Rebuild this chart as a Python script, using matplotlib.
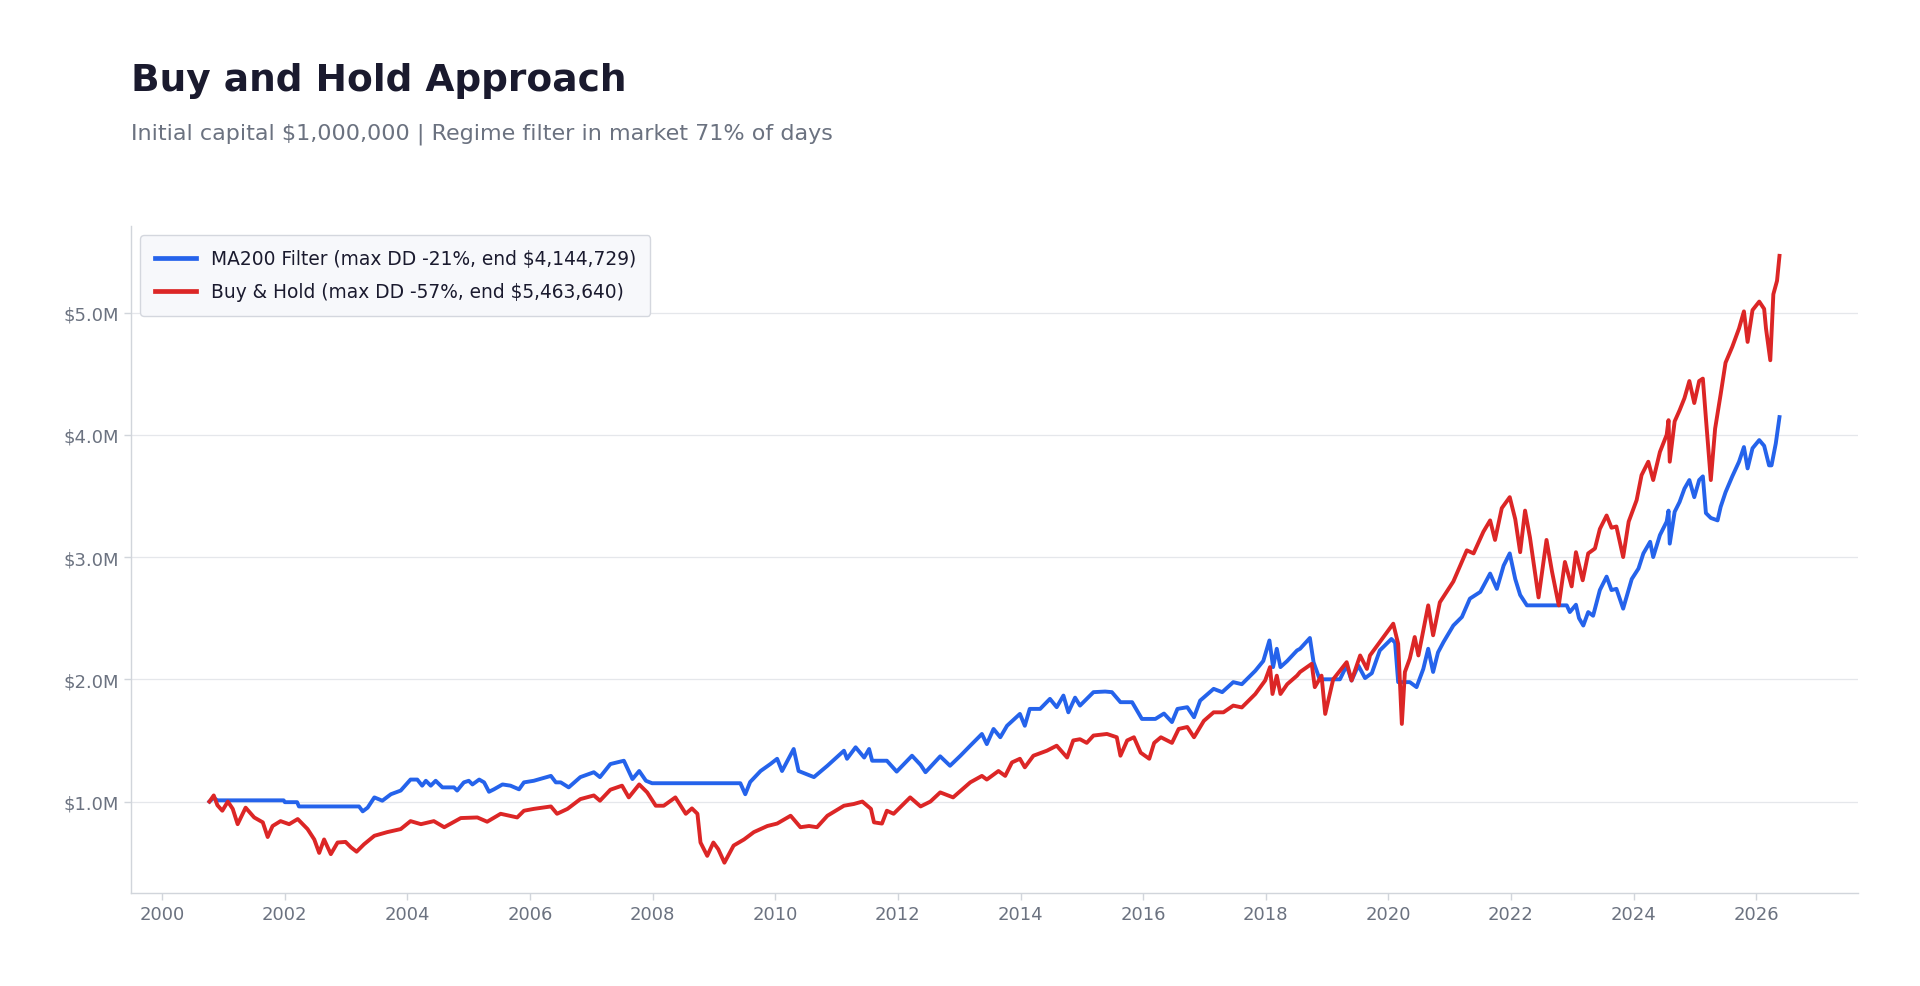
import matplotlib
matplotlib.use("Agg")
import matplotlib.pyplot as plt
from matplotlib.ticker import FuncFormatter, MultipleLocator
import numpy as np

# ---- data (decimal year, portfolio value in $M) ----
ma200_years = [2000.77, 2000.84, 2000.90, 2001.98, 2002.00, 2002.20, 2002.23, 2003.21, 2003.27, 2003.35,
               2003.46, 2003.59, 2003.73, 2003.89, 2004.05, 2004.16, 2004.24, 2004.30, 2004.38, 2004.46,
               2004.57, 2004.76, 2004.81, 2004.92, 2005.00, 2005.06, 2005.17, 2005.25, 2005.33, 2005.41,
               2005.55, 2005.68, 2005.82, 2005.90, 2006.06, 2006.34, 2006.42, 2006.50, 2006.63, 2006.82,
               2007.04, 2007.14, 2007.31, 2007.53, 2007.67, 2007.78, 2007.89, 2007.99, 2009.43, 2009.51,
               2009.59, 2009.76, 2009.92, 2010.03, 2010.11, 2010.30, 2010.38, 2010.63, 2010.85, 2011.12,
               2011.17, 2011.31, 2011.45, 2011.53, 2011.58, 2011.82, 2011.98, 2012.23, 2012.37, 2012.45,
               2012.69, 2012.85, 2013.02, 2013.18, 2013.37, 2013.45, 2013.56, 2013.67, 2013.78, 2013.99,
               2014.07, 2014.15, 2014.32, 2014.48, 2014.59, 2014.70, 2014.78, 2014.89, 2014.97, 2015.19,
               2015.38, 2015.49, 2015.63, 2015.82, 2015.98, 2016.20, 2016.34, 2016.47, 2016.56, 2016.72,
               2016.83, 2016.93, 2017.15, 2017.29, 2017.47, 2017.61, 2017.83, 2017.96, 2018.06, 2018.12,
               2018.18, 2018.24, 2018.35, 2018.51, 2018.56, 2018.72, 2018.78, 2018.88, 2019.21, 2019.32,
               2019.40, 2019.51, 2019.62, 2019.73, 2019.86, 2020.05, 2020.11, 2020.16, 2020.35, 2020.46,
               2020.57, 2020.65, 2020.73, 2020.81, 2020.90, 2021.06, 2021.20, 2021.33, 2021.50, 2021.66,
               2021.77, 2021.88, 2021.98, 2022.07, 2022.15, 2022.26, 2022.91, 2022.96, 2023.06, 2023.11,
               2023.18, 2023.26, 2023.34, 2023.45, 2023.56, 2023.64, 2023.72, 2023.83, 2023.97, 2024.08,
               2024.16, 2024.27, 2024.32, 2024.43, 2024.54, 2024.57, 2024.59, 2024.67, 2024.75, 2024.83,
               2024.91, 2024.99, 2025.07, 2025.13, 2025.18, 2025.26, 2025.37, 2025.42, 2025.50, 2025.61,
               2025.72, 2025.80, 2025.86, 2025.94, 2026.05, 2026.13, 2026.21, 2026.25, 2026.32, 2026.38]
ma200_values = [1.00, 1.03, 1.01, 1.01, 0.995, 0.995, 0.96, 0.96, 0.92, 0.95,
                1.034, 1.007, 1.06, 1.09, 1.18, 1.18, 1.13, 1.17, 1.13, 1.17,
                1.116, 1.116, 1.09, 1.157, 1.17, 1.14, 1.18, 1.157, 1.08, 1.10,
                1.14, 1.13, 1.10, 1.157, 1.17, 1.21, 1.157, 1.157, 1.116, 1.20,
                1.24, 1.20, 1.307, 1.334, 1.184, 1.25, 1.17, 1.15, 1.15, 1.06,
                1.16, 1.25, 1.307, 1.35, 1.25, 1.43, 1.25, 1.20, 1.293, 1.416,
                1.35, 1.444, 1.36, 1.43, 1.334, 1.334, 1.245, 1.375, 1.30, 1.24,
                1.37, 1.293, 1.375, 1.457, 1.553, 1.47, 1.594, 1.526, 1.62, 1.717,
                1.62, 1.758, 1.758, 1.84, 1.772, 1.867, 1.73, 1.85, 1.785, 1.895,
                1.90, 1.895, 1.813, 1.813, 1.676, 1.676, 1.72, 1.65, 1.758, 1.772,
                1.69, 1.826, 1.922, 1.895, 1.977, 1.96, 2.07, 2.15, 2.318, 2.10,
                2.25, 2.10, 2.15, 2.236, 2.25, 2.338, 2.14, 2.00, 2.00, 2.113,
                1.99, 2.113, 2.01, 2.05, 2.236, 2.33, 2.30, 1.977, 1.977, 1.936,
                2.085, 2.25, 2.06, 2.22, 2.305, 2.44, 2.51, 2.66, 2.715, 2.865,
                2.74, 2.93, 3.03, 2.82, 2.69, 2.605, 2.605, 2.55, 2.61, 2.50,
                2.44, 2.55, 2.52, 2.73, 2.84, 2.73, 2.74, 2.578, 2.82, 2.906,
                3.03, 3.125, 3.00, 3.18, 3.29, 3.38, 3.11, 3.37, 3.45, 3.56,
                3.63, 3.49, 3.63, 3.66, 3.36, 3.32, 3.30, 3.41, 3.53, 3.66,
                3.78, 3.90, 3.725, 3.89, 3.957, 3.91, 3.75, 3.75, 3.93, 4.145]

bh_years = [2000.77, 2000.84, 2000.90, 2000.98, 2001.07, 2001.15, 2001.23, 2001.36, 2001.50, 2001.64,
            2001.72, 2001.80, 2001.93, 2002.07, 2002.21, 2002.37, 2002.48, 2002.56, 2002.64, 2002.75,
            2002.86, 2002.99, 2003.08, 2003.17, 2003.29, 2003.46, 2003.67, 2003.89, 2004.05, 2004.22,
            2004.43, 2004.60, 2004.87, 2005.14, 2005.30, 2005.52, 2005.79, 2005.90, 2006.06, 2006.34,
            2006.44, 2006.61, 2006.82, 2007.04, 2007.14, 2007.31, 2007.50, 2007.61, 2007.78, 2007.91,
            2008.05, 2008.18, 2008.37, 2008.54, 2008.64, 2008.73, 2008.78, 2008.89, 2008.99, 2009.07,
            2009.17, 2009.32, 2009.49, 2009.65, 2009.87, 2010.03, 2010.25, 2010.41, 2010.55, 2010.68,
            2010.85, 2011.12, 2011.28, 2011.42, 2011.56, 2011.61, 2011.74, 2011.82, 2011.93, 2012.20,
            2012.37, 2012.53, 2012.69, 2012.90, 2013.18, 2013.37, 2013.45, 2013.64, 2013.75, 2013.86,
            2013.99, 2014.07, 2014.21, 2014.43, 2014.59, 2014.76, 2014.86, 2014.97, 2015.08, 2015.19,
            2015.41, 2015.57, 2015.63, 2015.74, 2015.85, 2015.96, 2016.10, 2016.18, 2016.29, 2016.47,
            2016.58, 2016.72, 2016.83, 2016.99, 2017.15, 2017.31, 2017.47, 2017.61, 2017.83, 2017.99,
            2018.07, 2018.11, 2018.18, 2018.24, 2018.35, 2018.51, 2018.56, 2018.75, 2018.80, 2018.91,
            2018.97, 2019.10, 2019.32, 2019.40, 2019.54, 2019.65, 2019.70, 2019.86, 2020.08, 2020.16,
            2020.22, 2020.27, 2020.35, 2020.43, 2020.49, 2020.65, 2020.73, 2020.84, 2021.06, 2021.28,
            2021.39, 2021.55, 2021.66, 2021.74, 2021.85, 2021.98, 2022.07, 2022.15, 2022.23, 2022.31,
            2022.45, 2022.58, 2022.67, 2022.78, 2022.88, 2022.99, 2023.06, 2023.17, 2023.26, 2023.37,
            2023.45, 2023.56, 2023.64, 2023.72, 2023.83, 2023.92, 2024.05, 2024.13, 2024.24, 2024.32,
            2024.43, 2024.54, 2024.57, 2024.59, 2024.67, 2024.75, 2024.83, 2024.91, 2024.99, 2025.07,
            2025.13, 2025.18, 2025.26, 2025.33, 2025.42, 2025.50, 2025.61, 2025.72, 2025.80, 2025.86,
            2025.94, 2026.05, 2026.13, 2026.16, 2026.23, 2026.28, 2026.34, 2026.38]
bh_values = [1.00, 1.05, 0.97, 0.925, 1.00, 0.94, 0.815, 0.95, 0.87, 0.83,
             0.71, 0.80, 0.84, 0.815, 0.857, 0.775, 0.69, 0.58, 0.69, 0.57,
             0.665, 0.67, 0.625, 0.59, 0.65, 0.72, 0.75, 0.775, 0.84, 0.815,
             0.84, 0.79, 0.865, 0.87, 0.835, 0.90, 0.87, 0.925, 0.94, 0.96,
             0.90, 0.94, 1.02, 1.05, 1.007, 1.097, 1.13, 1.034, 1.14, 1.075,
             0.966, 0.966, 1.034, 0.90, 0.944, 0.90, 0.665, 0.556, 0.665, 0.61,
             0.50, 0.64, 0.69, 0.75, 0.80, 0.82, 0.884, 0.79, 0.80, 0.79,
             0.884, 0.966, 0.98, 1.00, 0.94, 0.83, 0.82, 0.925, 0.90, 1.034,
             0.96, 1.00, 1.075, 1.034, 1.157, 1.21, 1.18, 1.25, 1.21, 1.32,
             1.35, 1.28, 1.375, 1.416, 1.457, 1.36, 1.50, 1.51, 1.48, 1.54,
             1.553, 1.526, 1.375, 1.50, 1.526, 1.40, 1.35, 1.48, 1.526, 1.48,
             1.594, 1.61, 1.526, 1.66, 1.73, 1.73, 1.785, 1.77, 1.88, 1.99,
             2.10, 1.88, 2.03, 1.88, 1.96, 2.03, 2.06, 2.127, 1.936, 2.03,
             1.717, 2.00, 2.14, 1.99, 2.195, 2.085, 2.195, 2.305, 2.455, 2.29,
             1.635, 2.06, 2.17, 2.346, 2.195, 2.605, 2.36, 2.63, 2.80, 3.055,
             3.03, 3.207, 3.30, 3.14, 3.40, 3.49, 3.31, 3.04, 3.38, 3.16,
             2.67, 3.14, 2.88, 2.605, 2.96, 2.76, 3.04, 2.81, 3.03, 3.07,
             3.23, 3.34, 3.24, 3.25, 3.00, 3.29, 3.466, 3.67, 3.78, 3.63,
             3.86, 4.00, 4.12, 3.78, 4.11, 4.20, 4.30, 4.44, 4.26, 4.44,
             4.46, 4.135, 3.63, 4.05, 4.33, 4.59, 4.72, 4.87, 5.01, 4.76,
             5.02, 5.09, 5.03, 4.87, 4.61, 5.15, 5.26, 5.464]

series_labels = ["MA200 Filter (max DD -21%, end $4,144,729)",
                 "Buy & Hold (max DD -57%, end $5,463,640)"]
title_text = "Buy and Hold Approach"
subtitle_text = "Initial capital $1,000,000 | Regime filter in market 71% of days"

# ---- styling ----
BLUE = "#2563eb"
RED = "#dc2626"
TEXT_DARK = "#1a1a2e"
TEXT_GRAY = "#6b7280"
GRID = "#e5e7eb"
SPINE = "#d1d5db"

plt.rcParams["font.family"] = ["DejaVu Sans"]

fig = plt.figure(figsize=(19.2, 9.87), dpi=100)
fig.patch.set_facecolor("white")
ax = fig.add_axes([0.0682, 0.0942, 0.8995, 0.6763])

ax.plot(ma200_years, np.array(ma200_values) * 1e6, color=BLUE, lw=2.8, label=series_labels[0], zorder=3)
ax.plot(bh_years, np.array(bh_values) * 1e6, color=RED, lw=2.8, label=series_labels[1], zorder=4)

ax.xaxis.set_major_locator(MultipleLocator(2))
ax.xaxis.set_major_formatter(FuncFormatter(lambda v, p: f"{int(round(v))}"))
ax.yaxis.set_major_locator(MultipleLocator(1e6))
ax.yaxis.set_major_formatter(FuncFormatter(lambda v, p: f"${v/1e6:.1f}M"))

ax.grid(axis="y", color=GRID, lw=0.9)
ax.grid(axis="x", visible=False)
ax.set_axisbelow(True)
for s in ["top", "right"]:
    ax.spines[s].set_visible(False)
for s in ["left", "bottom"]:
    ax.spines[s].set_color(SPINE)
    ax.spines[s].set_linewidth(1.0)
ax.tick_params(axis="both", colors=SPINE, labelcolor=TEXT_GRAY, labelsize=13, length=5, width=1)

leg = ax.legend(loc="upper left", fontsize=13.4, frameon=True, fancybox=True,
                handlelength=2.2, borderpad=0.78, labelspacing=0.75)
leg.get_frame().set_facecolor("#f7f8fb")
leg.get_frame().set_edgecolor("#d4d7de")
leg.get_frame().set_alpha(1.0)
for t in leg.get_texts():
    t.set_color(TEXT_DARK)
for l in leg.get_lines():
    l.set_linewidth(3.4)

fig.text(0.0682, 1 - 91 / 987, title_text, fontsize=27, fontweight="bold", color=TEXT_DARK,
         ha="left", va="baseline")
fig.text(0.0682, 1 - 139.5 / 987, subtitle_text, fontsize=16, color=TEXT_GRAY,
         ha="left", va="baseline")

fig.savefig("out.png", dpi=100, facecolor="white")
